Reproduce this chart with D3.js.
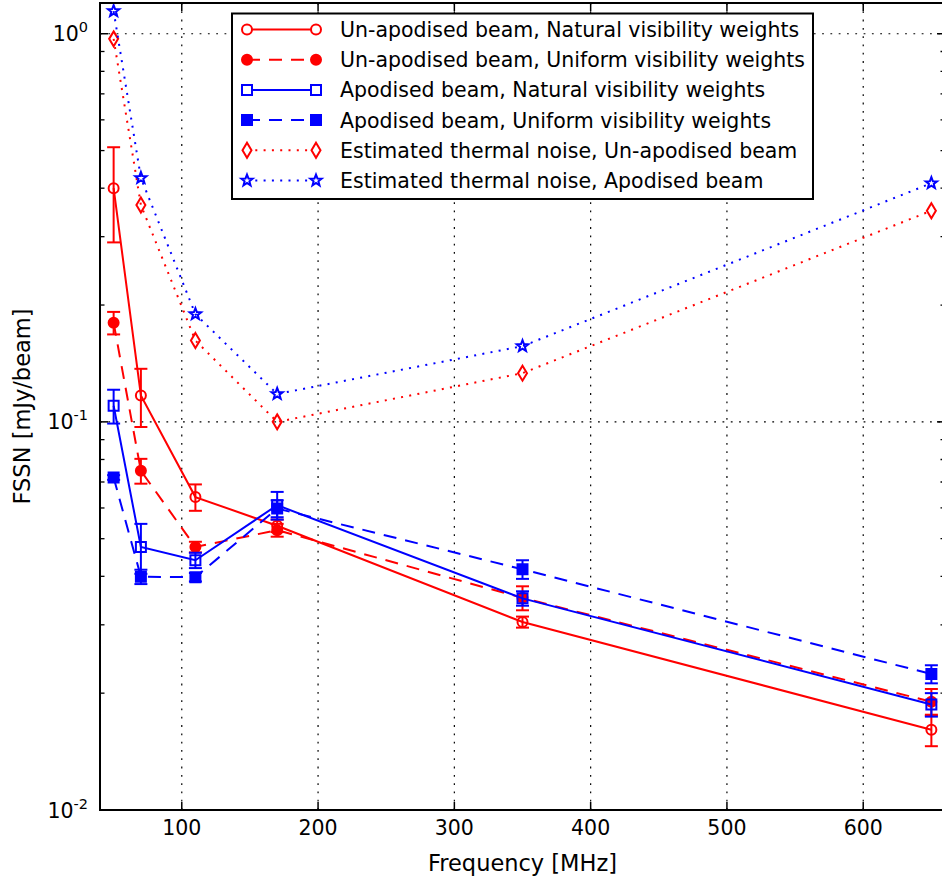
<!DOCTYPE html>
<html>
<head>
<meta charset="utf-8">
<script src="https://cdn.jsdelivr.net/npm/d3@7"></script>
<style>
  body { margin: 0; background: #fff; }
  text { font-family: "DejaVu Sans", sans-serif; fill: #000; }
</style>
</head>
<body>
<svg id="chart"></svg>
<script>
// frequencies in MHz
const freqs = [50, 70, 110, 170, 350, 650];

// FSSN values [mJy/beam] and error bars
const unapoNatural = [0.40, 0.117, 0.064, 0.054, 0.0305, 0.0161];
const unapoNaturalErr = [0.11, 0.02, 0.005, 0.002, 0.001, 0.0015];
const unapoUniform = [0.18, 0.0748, 0.0476, 0.0526, 0.0352, 0.019];
const unapoUniformErr = [0.012, 0.0055, 0.0015, 0.002, 0.0025, 0.0015];
const apoNatural = [0.110, 0.0476, 0.044, 0.061, 0.0351, 0.0187];
const apoNaturalErr = [0.011, 0.007, 0.002, 0.005, 0.0015, 0.0013];
const apoUniform = [0.0719, 0.0399, 0.0398, 0.0598, 0.0417, 0.0224];
const apoUniformErr = [0.001, 0.0017, 0.001, 0.003, 0.0023, 0.0012];
const thermalUnapo = [0.97, 0.362, 0.162, 0.100, 0.1335, 0.35];
const thermalApo = [1.144, 0.425, 0.1895, 0.118, 0.1567, 0.412];

const xTicks = [100, 200, 300, 400, 500, 600];
const yMajor = [0.01, 0.1, 1];
const yTickLabels = ["-2", "-1", "0"];

const series = [
  { label: "Un-apodised beam, Natural visibility weights", values: unapoNatural, errors: unapoNaturalErr,
    color: "#ff0000", dash: null, marker: "circle", filled: false },
  { label: "Un-apodised beam, Uniform visibility weights", values: unapoUniform, errors: unapoUniformErr,
    color: "#ff0000", dash: "13,9", marker: "circle", filled: true },
  { label: "Apodised beam, Natural visibility weights", values: apoNatural, errors: apoNaturalErr,
    color: "#0000ff", dash: null, marker: "square", filled: false },
  { label: "Apodised beam, Uniform visibility weights", values: apoUniform, errors: apoUniformErr,
    color: "#0000ff", dash: "13,9", marker: "square", filled: true },
  { label: "Estimated thermal noise, Un-apodised beam", values: thermalUnapo, errors: null,
    color: "#ff0000", dash: "2,6.3", marker: "diamond", filled: false },
  { label: "Estimated thermal noise, Apodised beam", values: thermalApo, errors: null,
    color: "#0000ff", dash: "2,6.3", marker: "star", filled: false }
];

const W = 942, H = 876;
const margin = { left: 100, top: 3, right: 945, bottom: 810 };

const svg = d3.select("#chart").attr("width", W).attr("height", H);

const x = d3.scaleLinear().domain([40, 660]).range([margin.left, margin.right]);
const y = d3.scaleLog().domain([0.01, 1.2]).range([margin.bottom, margin.top]);

svg.append("defs").append("clipPath").attr("id", "plotClip")
  .append("rect")
  .attr("x", margin.left).attr("y", margin.top)
  .attr("width", margin.right - margin.left).attr("height", margin.bottom - margin.top);

// marker shapes
function markerPath(kind) {
  if (kind === "circle") return d3.symbol().type(d3.symbolCircle).size(Math.PI * 25)();
  if (kind === "square") return "M-5,-5H5V5H-5Z";
  if (kind === "diamond") return "M0,-7.5L4.5,0L0,7.5L-4.5,0Z";
  // five pointed star
  const R = 6, r = R * 0.42;
  let pts = [];
  for (let i = 0; i < 10; i++) {
    const a = -Math.PI / 2 + i * Math.PI / 5;
    const rad = i % 2 === 0 ? R : r;
    pts.push([rad * Math.cos(a), rad * Math.sin(a)]);
  }
  return "M" + pts.map(p => p[0].toFixed(2) + "," + p[1].toFixed(2)).join("L") + "Z";
}

// grid
const grid = svg.append("g");
grid.selectAll("line.gx").data(xTicks).enter().append("line")
  .attr("x1", d => x(d)).attr("x2", d => x(d))
  .attr("y1", margin.top).attr("y2", margin.bottom)
  .attr("stroke", "#000").attr("stroke-width", 1.2).attr("stroke-dasharray", "1.8,6.5");
grid.selectAll("line.gy").data(yMajor.slice(1)).enter().append("line")
  .attr("y1", d => y(d)).attr("y2", d => y(d))
  .attr("x1", margin.left).attr("x2", margin.right)
  .attr("stroke", "#000").attr("stroke-width", 1.2).attr("stroke-dasharray", "1.8,6.5");

// data
const plot = svg.append("g").attr("clip-path", "url(#plotClip)");
const line = d3.line().x(d => x(d[0])).y(d => y(d[1]));

series.forEach(s => {
  const pts = freqs.map((f, i) => [f, s.values[i]]);
  const g = plot.append("g");
  g.append("path").datum(pts)
    .attr("d", line)
    .attr("fill", "none")
    .attr("stroke", s.color)
    .attr("stroke-width", 2)
    .attr("stroke-dasharray", s.dash);

  if (s.errors) {
    const eb = g.selectAll("g.eb").data(pts).enter().append("g")
      .attr("stroke", s.color).attr("stroke-width", 2);
    eb.append("line")
      .attr("x1", d => x(d[0])).attr("x2", d => x(d[0]))
      .attr("y1", (d, i) => y(d[1] - s.errors[i]))
      .attr("y2", (d, i) => y(d[1] + s.errors[i]));
    eb.append("line")
      .attr("x1", d => x(d[0]) - 6.5).attr("x2", d => x(d[0]) + 6.5)
      .attr("y1", (d, i) => y(d[1] - s.errors[i]))
      .attr("y2", (d, i) => y(d[1] - s.errors[i]));
    eb.append("line")
      .attr("x1", d => x(d[0]) - 6.5).attr("x2", d => x(d[0]) + 6.5)
      .attr("y1", (d, i) => y(d[1] + s.errors[i]))
      .attr("y2", (d, i) => y(d[1] + s.errors[i]));
  }

  g.selectAll("path.mk").data(pts).enter().append("path")
    .attr("d", markerPath(s.marker))
    .attr("transform", d => `translate(${x(d[0])},${y(d[1])})`)
    .attr("fill", s.filled ? s.color : "none")
    .attr("stroke", s.color)
    .attr("stroke-width", 2);
});

// axes frame & ticks (ticks inside on all sides)
const axes = svg.append("g").attr("stroke", "#000");
const bottomY = margin.bottom, topY = margin.top;

xTicks.forEach(t => {
  axes.append("line").attr("x1", x(t)).attr("x2", x(t)).attr("y1", bottomY).attr("y2", bottomY - 8).attr("stroke-width", 1.5);
  axes.append("line").attr("x1", x(t)).attr("x2", x(t)).attr("y1", topY).attr("y2", topY + 8).attr("stroke-width", 1.5);
});

const yMinor = [];
[0.01, 0.1].forEach(dec => { for (let k = 2; k <= 9; k++) yMinor.push(dec * k); });
yMinor.forEach(v => {
  axes.append("line").attr("x1", margin.left).attr("x2", margin.left + 4.5).attr("y1", y(v)).attr("y2", y(v)).attr("stroke-width", 1.3);
  axes.append("line").attr("x1", margin.right).attr("x2", margin.right - 4.5).attr("y1", y(v)).attr("y2", y(v)).attr("stroke-width", 1.3);
});
yMajor.forEach(v => {
  axes.append("line").attr("x1", margin.left).attr("x2", margin.left + 8).attr("y1", y(v)).attr("y2", y(v)).attr("stroke-width", 1.5);
  axes.append("line").attr("x1", margin.right).attr("x2", margin.right - 8).attr("y1", y(v)).attr("y2", y(v)).attr("stroke-width", 1.5);
});

axes.append("rect")
  .attr("x", margin.left).attr("y", margin.top)
  .attr("width", margin.right - margin.left).attr("height", margin.bottom - margin.top)
  .attr("fill", "none").attr("stroke-width", 2);

// tick labels
svg.append("g").selectAll("text").data(xTicks).enter().append("text")
  .attr("x", d => x(d)).attr("y", 835)
  .attr("text-anchor", "middle").attr("font-size", 20.5)
  .text(d => d);

const yl = svg.append("g").selectAll("text").data(yMajor).enter().append("text")
  .attr("x", 88).attr("y", d => y(d) + 7.5)
  .attr("text-anchor", "end").attr("font-size", 20.5);
yl.append("tspan").text("10");
yl.append("tspan").attr("dy", -9).attr("font-size", 14.5).text((d, i) => yTickLabels[i]);

// axis titles
svg.append("text")
  .attr("x", (margin.left + margin.right) / 2).attr("y", 871)
  .attr("text-anchor", "middle").attr("font-size", 22.5)
  .text("Frequency [MHz]");
svg.append("text")
  .attr("transform", `translate(30,${(margin.top + margin.bottom) / 2}) rotate(-90)`)
  .attr("text-anchor", "middle").attr("font-size", 22.5)
  .text("FSSN [mJy/beam]");

// legend
const lg = svg.append("g");
lg.append("rect")
  .attr("x", 232).attr("y", 13.5).attr("width", 581).attr("height", 185.5)
  .attr("fill", "#fff").attr("stroke", "#000").attr("stroke-width", 2);
series.forEach((s, i) => {
  const ly = 29.5 + i * 30.2;
  const row = lg.append("g");
  row.append("line")
    .attr("x1", 247).attr("x2", 316).attr("y1", ly).attr("y2", ly)
    .attr("stroke", s.color).attr("stroke-width", 2).attr("stroke-dasharray", s.dash);
  [247, 316].forEach(mx => {
    row.append("path").attr("d", markerPath(s.marker))
      .attr("transform", `translate(${mx},${ly})`)
      .attr("fill", s.filled ? s.color : "#fff")
      .attr("stroke", s.color).attr("stroke-width", 2);
  });
  row.append("text")
    .attr("x", 340).attr("y", ly + 7.5)
    .attr("font-size", 20.5)
    .text(s.label);
});
</script>
</body>
</html>
